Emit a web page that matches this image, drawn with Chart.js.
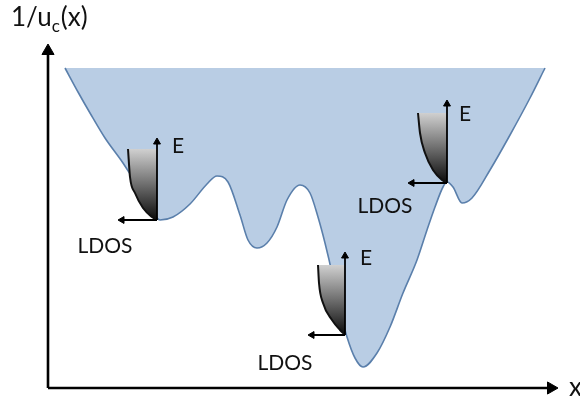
<!DOCTYPE html>
<html>
<head>
<meta charset="utf-8">
<script src="https://cdn.jsdelivr.net/npm/chart.js@4/dist/chart.umd.min.js"></script>
<style>
  html,body{margin:0;padding:0;background:#fff;}
  #wrap{position:relative;width:580px;height:403px;}
</style>
</head>
<body>
<div id="wrap"><canvas id="chart"></canvas></div>
<script>
// potential landscape 1/u_c(x) (figure units)
const wellX = [65, 78, 90, 105, 123, 140, 150, 160, 173, 190, 207, 217, 228, 240, 248, 257, 267, 277, 287, 300,
               310, 318, 325, 332, 338, 347, 355, 363, 377, 390, 403, 417, 427, 435, 443, 447, 453, 462, 472, 490, 510, 530, 545];
const wellY = [68, 92, 113, 138, 163, 190, 208, 220, 217, 204, 184, 176, 182, 215, 240, 248, 243, 227, 200, 185,
               193, 217, 243, 273, 303, 337, 358, 367, 353, 327, 293, 260, 230, 207, 187, 182, 187, 203, 198, 170, 135, 98, 68];
const wellTop = 68;

// local density of states shapes at the three minima
const dosLeftX  = [128, 130, 135, 143, 152, 157];
const dosLeftY  = [149, 177, 193, 208, 217, 220];
const dosMidX   = [318, 319, 323, 332, 340, 345];
const dosMidY   = [265, 283, 303, 320, 330, 335];
const dosRightX = [418, 420, 425, 433, 442, 447];
const dosRightY = [113, 133, 153, 170, 180, 183];

// E / LDOS arrows: origin, top of E arrow, left end of LDOS arrow
const arrowOrigin = [[157, 220], [345, 335], [447, 183]];
const arrowTopY   = [142, 256, 104];
const arrowLeftX  = [122, 312, 412];

// main axes
const axisOrigin = [48, 388];
const axisTopY = 51;
const axisRightX = 551;

const notes = [
  {text: 'E', x: 178, y: 146}, {text: 'LDOS', x: 105, y: 246},
  {text: 'E', x: 366, y: 258}, {text: 'LDOS', x: 285, y: 363},
  {text: 'E', x: 465, y: 114}, {text: 'LDOS', x: 385, y: 206}
];

const pts = (xs, ys) => xs.map((x, i) => ({x: x, y: ys[i]}));

function dosGradient(top, bottom){
  return (ctx) => {
    const chart = ctx.chart;
    const ys = chart.scales.y;
    if (!ys || !chart.chartArea) return '#777';
    const g = chart.ctx.createLinearGradient(0, ys.getPixelForValue(top), 0, ys.getPixelForValue(bottom));
    g.addColorStop(0, '#d0d0d0');
    g.addColorStop(0.5, '#6e6e6e');
    g.addColorStop(1, '#0a0a0a');
    return g;
  };
}

function dosSet(xs, ys){
  return {
    data: pts(xs, ys), fill: {value: ys[0]},
    backgroundColor: dosGradient(ys[0], ys[ys.length - 1]),
    borderColor: '#111', borderWidth: 2, pointRadius: 0,
    cubicInterpolationMode: 'monotone', order: 5
  };
}

function arrowSet(from, to, rot, r, w){
  return {
    data: [{x: from[0], y: from[1]}, {x: to[0], y: to[1]}],
    borderColor: '#000', borderWidth: w, fill: false,
    pointRadius: [0, r], pointStyle: 'triangle', pointRotation: [0, rot],
    pointBackgroundColor: '#000', pointBorderColor: '#000', pointBorderWidth: 1,
    order: 1
  };
}

const datasets = [
  {
    data: pts(wellX, wellY), fill: {value: wellTop},
    backgroundColor: '#b9cde4', borderColor: '#5a7fab', borderWidth: 1.6,
    pointRadius: 0, cubicInterpolationMode: 'monotone', order: 10
  },
  dosSet(dosLeftX, dosLeftY),
  dosSet(dosMidX, dosMidY),
  dosSet(dosRightX, dosRightY)
];
arrowOrigin.forEach((o, i) => {
  datasets.push(arrowSet(o, [o[0], arrowTopY[i]], 0, 4, 1.8));
  datasets.push(arrowSet(o, [arrowLeftX[i], o[1]], -90, 4, 1.8));
});
datasets.push(arrowSet(axisOrigin, [axisOrigin[0], axisTopY], 0, 7, 2.6));
datasets.push(arrowSet(axisOrigin, [axisRightX, axisOrigin[1]], 90, 7, 2.6));

const textPlugin = {
  id: 'texts',
  afterDatasetsDraw(chart){
    const c = chart.ctx, xs = chart.scales.x, ys = chart.scales.y;
    c.save();
    c.fillStyle = '#111';
    c.textAlign = 'center';
    c.textBaseline = 'middle';
    c.font = '21px Lato';
    notes.forEach(n => c.fillText(n.text, xs.getPixelForValue(n.x), ys.getPixelForValue(n.y)));
    // y axis title 1/u_c(x)
    c.textAlign = 'left';
    c.textBaseline = 'alphabetic';
    c.font = '26px Lato';
    c.fillText('1/u', 11, 26);
    let w = c.measureText('1/u').width;
    c.font = '17px Lato';
    c.fillText('c', 11 + w, 32);
    const w2 = c.measureText('c').width;
    c.font = '26px Lato';
    c.fillText('(x)', 11 + w + w2 + 1, 26);
    // x axis label
    c.fillText('x', xs.getPixelForValue(569), ys.getPixelForValue(396));
    c.restore();
  }
};

new Chart(document.getElementById('chart'), {
  type: 'line',
  data: {datasets: datasets},
  plugins: [textPlugin],
  options: {
    responsive: true, maintainAspectRatio: false, animation: false,
    events: [],
    layout: {padding: 0, autoPadding: false},
    plugins: {legend: {display: false}, tooltip: {enabled: false}},
    scales: {
      x: {type: 'linear', min: 0, max: 580, display: false},
      y: {type: 'linear', min: 0, max: 403, reverse: true, display: false}
    }
  }
});
</script>
</body>
</html>
